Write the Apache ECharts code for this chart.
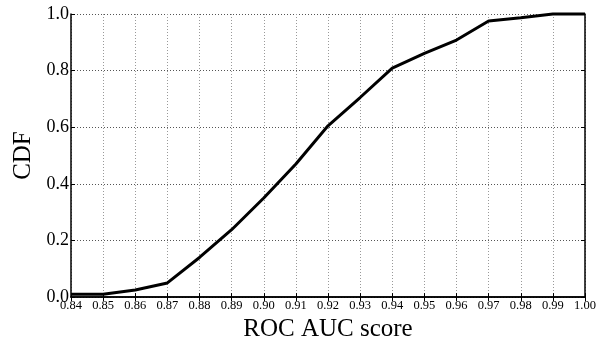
<!DOCTYPE html>
<html><head><meta charset="utf-8">
<script src="https://cdn.jsdelivr.net/npm/echarts@6/dist/echarts.min.js"></script>
<style>html,body{margin:0;padding:0;background:#fff}#c{width:607px;height:347px}</style>
</head><body><div id="c"></div>
<script>
var scores = [0.84,0.85,0.86,0.87,0.88,0.89,0.90,0.91,0.92,0.93,0.94,0.95,0.96,0.97,0.98,0.99,1.00];
var cdf =    [0.01,0.01,0.025,0.05,0.14,0.238,0.35,0.47,0.605,0.705,0.809,0.861,0.908,0.975,0.987,1.0,1.0];
var xTitle = 'ROC AUC score';
var yTitle = 'CDF';
var font = 'Liberation Serif';
var chart = echarts.init(document.getElementById('c'), null, {renderer:'canvas'});
var axLine = {show:true, lineStyle:{color:'#000', width:1.5}};
var splitX = {show:true, lineStyle:{type:[1,2], color:'#999', width:1}};
var splitY = {show:true, lineStyle:{type:[1,2], color:'#555', width:1}};
chart.setOption({
  animation:false,
  grid:{left:71, right:22, top:14, bottom:43, containLabel:false},
  xAxis:[{
    type:'value', min:0.84, max:1.0, interval:0.01,
    name:xTitle, nameLocation:'middle', nameGap:19,
    nameTextStyle:{fontFamily:font, fontSize:25, color:'#000'},
    axisLine:axLine, axisTick:{show:true, inside:true, length:4, lineStyle:{color:'#000'}},
    axisLabel:{fontFamily:font, fontSize:12.5, color:'#000', margin:2, formatter:function(v){return v.toFixed(2);}},
    splitLine:splitX
  },{
    type:'value', position:'top', min:0.84, max:1.0, interval:0.01,
    axisLine:axLine, axisTick:{show:true, inside:true, length:4, lineStyle:{color:'#000'}},
    axisLabel:{show:false}, splitLine:{show:false}
  }],
  yAxis:[{
    type:'value', min:0, max:1, interval:0.2,
    name:yTitle, nameLocation:'middle', nameGap:34, nameRotate:90,
    nameTextStyle:{fontFamily:font, fontSize:25, color:'#000'},
    axisLine:axLine, axisTick:{show:true, inside:true, length:4, lineStyle:{color:'#000'}},
    axisLabel:{fontFamily:font, fontSize:18, color:'#000', margin:2, formatter:function(v){return v.toFixed(1);}},
    splitLine:splitY
  },{
    type:'value', position:'right', min:0, max:1, interval:0.2,
    axisLine:axLine, axisTick:{show:true, inside:true, length:4, lineStyle:{color:'#000'}},
    axisLabel:{show:false}, splitLine:{show:false}
  }],
  series:[{
    type:'line', xAxisIndex:0, yAxisIndex:0,
    data: scores.map(function(s,i){return [s, cdf[i]];}),
    showSymbol:false, symbol:'none',
    lineStyle:{color:'#000', width:3},
    clip:false
  }]
});
</script></body></html>
